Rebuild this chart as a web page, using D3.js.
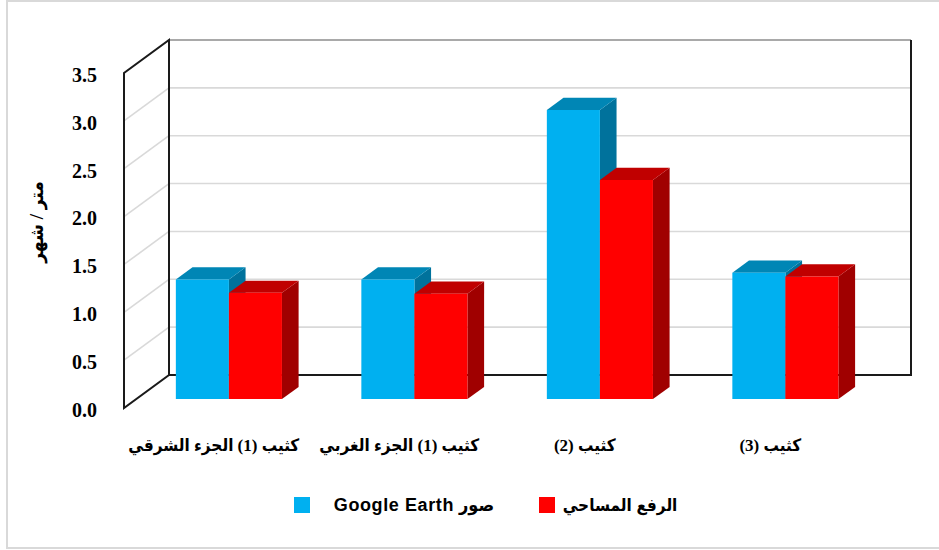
<!DOCTYPE html>
<html>
<head>
<meta charset="utf-8">
<script src="https://cdn.jsdelivr.net/npm/d3@7"></script>
<style>
  html, body { margin: 0; padding: 0; background: #fff; }
  svg { display: block; }
</style>
</head>
<body>
<svg id="chart" width="939" height="550"></svg>
<script>
// Categories (dunes) and monthly movement in metres for each method
const categories = ["كثيب (1) الجزء الشرقي", "كثيب (1) الجزء الغربي", "كثيب (2)", "كثيب (3)"];
const seriesNames = ["صور Google Earth", "الرفع المساحي"];
const googleEarth = [1.25, 1.25, 3.02, 1.32];
const survey = [1.11, 1.10, 2.29, 1.28];
const tickValues = [0, 0.5, 1, 1.5, 2, 2.5, 3, 3.5];
const yTitle = "متر / شهر";

const series = [
  { name: seriesNames[0], values: googleEarth, front: "#00B0F0", top: "#0086B5", side: "#00729C" },
  { name: seriesNames[1], values: survey, front: "#FF0000", top: "#C00000", side: "#A00000" }
];

const svg = d3.select("#chart");
const serif = "'Liberation Serif', 'Times New Roman', 'DejaVu Sans Condensed', 'DejaVu Sans', serif";
const sans = "'Liberation Sans', Arial, 'DejaVu Sans Condensed', 'DejaVu Sans', sans-serif";

// outer frame
svg.append("rect")
  .attr("x", 7).attr("y", 1).attr("width", 960).attr("height", 547)
  .attr("fill", "none").attr("stroke", "#d9d9d9").attr("stroke-width", 2);

// front-plane scales plus an oblique depth offset for the 3D box
const X0 = 124, X1 = 866;
const DX = 45, DY = -33;
const y = d3.scaleLinear().domain([0, 3.5]).range([408, 73]);
const x = d3.scaleBand().domain(categories).range([X0, X1]).paddingInner(0.428).paddingOuter(0.214);
const xs = d3.scaleBand().domain(seriesNames).range([0, x.bandwidth()]);

const P = (px, v, t) => [px + t * DX, y(v) + t * DY];
const poly = pts => pts.map(p => p.join(",")).join(" ");

const wall = svg.append("g");
// back wall
wall.append("rect")
  .attr("x", X0 + DX).attr("y", y(3.5) + DY)
  .attr("width", X1 - X0).attr("height", y(0) - y(3.5))
  .attr("fill", "#fff");
// left wall
wall.append("polygon")
  .attr("points", poly([P(X0, 0, 0), P(X0, 3.5, 0), P(X0, 3.5, 1), P(X0, 0, 1)]))
  .attr("fill", "#fff");

// gridlines on both walls
const gridTicks = tickValues.filter(v => v > 0 && v < 3.5);
wall.selectAll("line.gl").data(gridTicks).join("line")
  .attr("class", "gl")
  .attr("x1", v => P(X0, v, 0)[0]).attr("y1", v => P(X0, v, 0)[1])
  .attr("x2", v => P(X0, v, 1)[0]).attr("y2", v => P(X0, v, 1)[1])
  .attr("stroke", "#d9d9d9").attr("stroke-width", 1.6);
wall.selectAll("line.gb").data(gridTicks).join("line")
  .attr("class", "gb")
  .attr("x1", v => P(X0, v, 1)[0]).attr("y1", v => P(X0, v, 1)[1])
  .attr("x2", v => P(X1, v, 1)[0]).attr("y2", v => P(X1, v, 1)[1])
  .attr("stroke", "#d9d9d9").attr("stroke-width", 1.6);

// wall outlines
wall.append("line")
  .attr("x1", P(X0, 3.5, 1)[0]).attr("y1", P(X0, 3.5, 1)[1])
  .attr("x2", P(X1, 3.5, 1)[0]).attr("y2", P(X1, 3.5, 1)[1])
  .attr("stroke", "#8c8c8c").attr("stroke-width", 1.5);
wall.append("polyline")
  .attr("points", poly([P(X1, 3.5, 1), P(X1, 0, 1), P(X0, 0, 1), P(X0, 3.5, 1)]))
  .attr("fill", "none").attr("stroke", "#1a1a1a").attr("stroke-width", 2);
wall.append("polygon")
  .attr("points", poly([P(X0, 0, 0), P(X0, 3.5, 0), P(X0, 3.5, 1), P(X0, 0, 1)]))
  .attr("fill", "none").attr("stroke", "#1a1a1a").attr("stroke-width", 2);

// bars: front face sits partway into the box depth
const T0 = 0.27, T1 = 0.64;
const bars = svg.append("g");
categories.forEach((c, i) => {
  series.forEach(s => {
    const v = s.values[i];
    const xl = x(c) + xs(s.name), xr = xl + xs.bandwidth();
    const g = bars.append("g");
    g.append("polygon")
      .attr("points", poly([P(xr, 0, T0), P(xr, v, T0), P(xr, v, T1), P(xr, 0, T1)]))
      .attr("fill", s.side);
    g.append("polygon")
      .attr("points", poly([P(xl, v, T0), P(xr, v, T0), P(xr, v, T1), P(xl, v, T1)]))
      .attr("fill", s.top);
    g.append("polygon")
      .attr("points", poly([P(xl, 0, T0), P(xr, 0, T0), P(xr, v, T0), P(xl, v, T0)]))
      .attr("fill", s.front);
  });
});

// value axis labels
const yAxis = svg.append("g")
  .attr("transform", "translate(97,2)")
  .call(d3.axisLeft(y).tickValues(tickValues).tickFormat(d3.format(".1f")).tickSize(0).tickPadding(0));
yAxis.select(".domain").remove();
yAxis.selectAll("text")
  .attr("font-family", serif).attr("font-weight", "bold").attr("font-size", 20)
  .attr("fill", "#000");

// category labels
const xAxis = svg.append("g")
  .attr("transform", "translate(-3,439)")
  .call(d3.axisBottom(x).tickSize(0).tickPadding(0));
xAxis.select(".domain").remove();
xAxis.selectAll("text")
  .attr("direction", "rtl")
  .attr("font-family", serif).attr("font-weight", "bold").attr("font-size", 17)
  .attr("fill", "#000");

// axis title
svg.append("text")
  .attr("transform", "translate(36,222) rotate(-90)")
  .attr("text-anchor", "middle").attr("dominant-baseline", "central")
  .attr("direction", "rtl")
  .attr("font-family", serif).attr("font-weight", "bold").attr("font-size", 19)
  .text(yTitle);

// legend
const legendPos = [{ sq: 294, tx: 414, fs: 18, ls: 0.6 }, { sq: 539, tx: 620, fs: 17, ls: 0 }];
const legend = svg.append("g");
series.forEach((s, i) => {
  legend.append("rect")
    .attr("x", legendPos[i].sq).attr("y", 497).attr("width", 16).attr("height", 16)
    .attr("fill", s.front);
  legend.append("text")
    .attr("x", legendPos[i].tx).attr("y", 505)
    .attr("text-anchor", "middle").attr("dominant-baseline", "central")
    .attr("direction", "rtl")
    .attr("font-family", sans).attr("font-weight", "bold").attr("font-size", legendPos[i].fs)
    .attr("letter-spacing", legendPos[i].ls)
    .text(s.name);
});
</script>
</body>
</html>
